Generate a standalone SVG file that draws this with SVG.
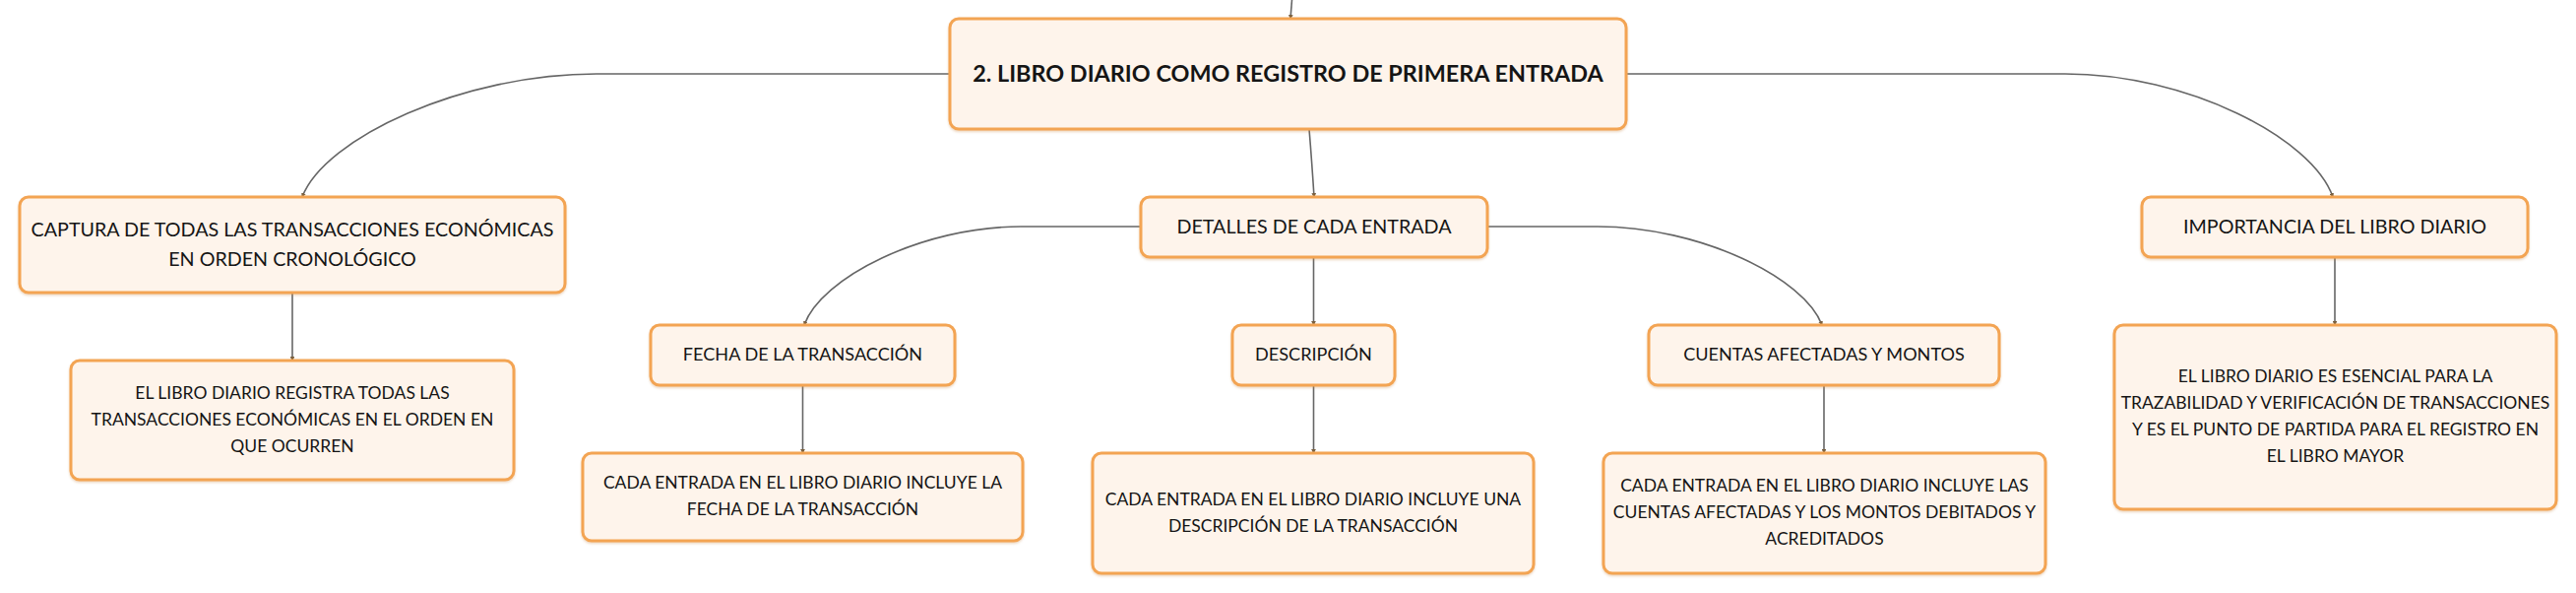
<svg xmlns="http://www.w3.org/2000/svg" width="2617" height="602" viewBox="0 0 2617 602">
<style>
.node rect{fill:#fef4eb;stroke:#f3a453;stroke-width:3;filter:url(#sh)}
.t{font-family:Lato,"Open Sans","Liberation Sans",sans-serif;fill:#151515;text-anchor:middle}
.t0{font-size:23.4px;font-weight:bold}
.t1{font-size:19.7px}
.t2{font-size:18.1px}
.t3{font-size:17.5px}
.conn path{fill:none;stroke:#666;stroke-width:1.6;marker-end:url(#ah)}
</style>
<defs>
<filter id="sh" x="-5%" y="-10%" width="110%" height="130%">
<feDropShadow dx="0" dy="1.5" stdDeviation="1.2" flood-color="#c98a4a" flood-opacity="0.35"/>
</filter>
<marker id="ah" viewBox="0 0 6 6" refX="5" refY="3" markerWidth="3" markerHeight="3" orient="auto" markerUnits="strokeWidth">
<path d="M0,0 L6,3 L0,6 Z" fill="#7a6040" stroke="none"/>
</marker>
</defs>
<rect width="2617" height="602" fill="#ffffff"/>
<g class="conn">
<path d="M1312.5,0 L1311,19"/>
<path d="M965,75 H606 C470,75 330,140 307,200"/>
<path d="M1652,75 H2098 C2222,75 2349,140 2370,200"/>
<path d="M1330,131 Q1333,168 1335,200"/>
<path d="M297,297 V366"/>
<path d="M1159,230 H1037 C937,230 834,282 817,330"/>
<path d="M1511,230 H1623 C1727,230 1833,282 1851,330"/>
<path d="M1334.5,261 V330"/>
<path d="M815.5,391 V460"/>
<path d="M1334.5,391 V460"/>
<path d="M1853,391 V460"/>
<path d="M2372,261 V330"/>
</g>
<g id="main" class="node">
<rect x="965" y="19" width="687" height="112" rx="9"/>
<text class="t t0" x="1308.5" y="83">2. LIBRO DIARIO COMO REGISTRO DE PRIMERA ENTRADA</text>
</g>
<g id="captura" class="node">
<rect x="20" y="200" width="554" height="97" rx="9"/>
<text class="t t1" x="297" y="240">CAPTURA DE TODAS LAS TRANSACCIONES ECONÓMICAS</text>
<text class="t t1" x="297" y="270">EN ORDEN CRONOLÓGICO</text>
</g>
<g id="captura-detalle" class="node">
<rect x="72" y="366" width="450" height="121" rx="9"/>
<text class="t t3" x="297" y="405">EL LIBRO DIARIO REGISTRA TODAS LAS</text>
<text class="t t3" x="297" y="432">TRANSACCIONES ECONÓMICAS EN EL ORDEN EN</text>
<text class="t t3" x="297" y="459">QUE OCURREN</text>
</g>
<g id="detalles" class="node">
<rect x="1159" y="200" width="352" height="61" rx="9"/>
<text class="t t1" x="1335" y="237">DETALLES DE CADA ENTRADA</text>
</g>
<g id="fecha" class="node">
<rect x="661" y="330" width="309" height="61" rx="9"/>
<text class="t t2" x="815.5" y="366">FECHA DE LA TRANSACCIÓN</text>
</g>
<g id="fecha-detalle" class="node">
<rect x="592" y="460" width="447" height="89" rx="9"/>
<text class="t t3" x="815.5" y="496">CADA ENTRADA EN EL LIBRO DIARIO INCLUYE LA</text>
<text class="t t3" x="815.5" y="523">FECHA DE LA TRANSACCIÓN</text>
</g>
<g id="descripcion" class="node">
<rect x="1252" y="330" width="165" height="61" rx="9"/>
<text class="t t2" x="1334.5" y="366">DESCRIPCIÓN</text>
</g>
<g id="descripcion-detalle" class="node">
<rect x="1110" y="460" width="448" height="122" rx="9"/>
<text class="t t3" x="1334" y="513">CADA ENTRADA EN EL LIBRO DIARIO INCLUYE UNA</text>
<text class="t t3" x="1334" y="540">DESCRIPCIÓN DE LA TRANSACCIÓN</text>
</g>
<g id="cuentas" class="node">
<rect x="1675" y="330" width="356" height="61" rx="9"/>
<text class="t t2" x="1853" y="366">CUENTAS AFECTADAS Y MONTOS</text>
</g>
<g id="cuentas-detalle" class="node">
<rect x="1629" y="460" width="449" height="122" rx="9"/>
<text class="t t3" x="1853.5" y="499">CADA ENTRADA EN EL LIBRO DIARIO INCLUYE LAS</text>
<text class="t t3" x="1853.5" y="526">CUENTAS AFECTADAS Y LOS MONTOS DEBITADOS Y</text>
<text class="t t3" x="1853.5" y="553">ACREDITADOS</text>
</g>
<g id="importancia" class="node">
<rect x="2176" y="200" width="392" height="61" rx="9"/>
<text class="t t1" x="2372" y="237">IMPORTANCIA DEL LIBRO DIARIO</text>
</g>
<g id="importancia-detalle" class="node">
<rect x="2148" y="330" width="449" height="187" rx="9"/>
<text class="t t3" x="2372.5" y="388">EL LIBRO DIARIO ES ESENCIAL PARA LA</text>
<text class="t t3" x="2372.5" y="415">TRAZABILIDAD Y VERIFICACIÓN DE TRANSACCIONES</text>
<text class="t t3" x="2372.5" y="442">Y ES EL PUNTO DE PARTIDA PARA EL REGISTRO EN</text>
<text class="t t3" x="2372.5" y="469">EL LIBRO MAYOR</text>
</g>
</svg>
